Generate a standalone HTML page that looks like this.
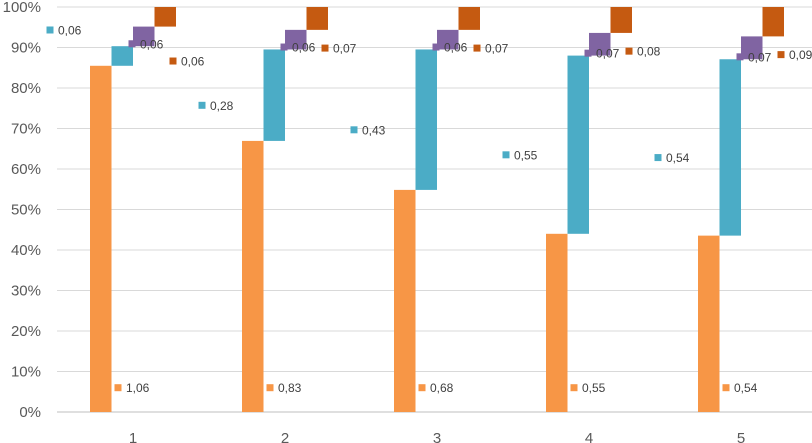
<!DOCTYPE html>
<html><head><meta charset="utf-8"><style>
html,body{margin:0;padding:0;background:#fff;}
svg{display:block;font-family:"Liberation Sans",sans-serif;}
</style></head><body>
<svg id="chart" width="812" height="443" viewBox="0 0 812 443"></svg>
<script>
const categories = ["1","2","3","4","5"];
const seriesOrange = [1.06,0.83,0.68,0.55,0.54];
const seriesTeal = [0.06,0.28,0.43,0.55,0.54];
const seriesPurple = [0.06,0.06,0.06,0.07,0.07];
const seriesBrown = [0.06,0.07,0.07,0.08,0.09];
const yTicks = [0,10,20,30,40,50,60,70,80,90,100];

const NS="http://www.w3.org/2000/svg";
const svg=document.getElementById('chart');
const L=57,R=817,T=7,B=412;
const step=(R-L)/categories.length;
const y=p=>B-(B-T)*p/100;
const cx=i=>L+step*(i+0.5);
function mk(tag,attrs,parent){const e=document.createElementNS(NS,tag);for(const k in attrs)e.setAttribute(k,attrs[k]);(parent||svg).appendChild(e);return e;}

yTicks.forEach(t=>{
  const g=mk('line',{x1:L,x2:812,y1:y(t),y2:y(t),stroke:t===0?'#bfbfbf':'#d9d9d9','stroke-width':1});
  
  
  const tx=mk('text',{x:41,y:y(t)+5,'text-anchor':'end','font-size':15,fill:'#595959'});
  tx.textContent=t+'%';
  
  
});

const series=[
 {name:'orange',vals:seriesOrange,color:'#f79646'},
 {name:'teal',vals:seriesTeal,color:'#4bacc6'},
 {name:'purple',vals:seriesPurple,color:'#8064a2'},
 {name:'brown',vals:seriesBrown,color:'#c55a11'}
];
const bw=21.5;
const fmt=v=>v.toFixed(2).replace('.',',');

categories.forEach((c,i)=>{
  const tot=series.reduce((s,sr)=>s+sr.vals[i],0);
  let cum=0;
  let smallTeal=false;
  const c0=cx(i);
  series.forEach((sr,k)=>{
    const p=sr.vals[i]/tot*100;
    const x0=c0-2*bw+k*bw;
    const r=mk('rect',{x:x0,y:y(cum+p),width:bw,height:y(cum)-y(cum+p),fill:sr.color});
    
    
    let lp,lx;
    if(k===0){lp=6;lx=c0-15;}
    else if(k===1){
      if(p<10){lp=cum+p+4;smallTeal=true;} else lp=cum+p/2-2.5;
      lx=c0-83;}
    else if(k===2){lp=cum+0.6;lx=c0-1;}
    else {lp=smallTeal?cum-8.5:Math.min(cum-4.5,90.2);lx=c0+40;}
    const ly=y(lp);
    const sq=mk('rect',{x:lx-3.5,y:ly-3.5,width:7,height:7,fill:sr.color});
    
    
    const tx=mk('text',{x:lx+8,y:ly+4.5,'font-size':12,fill:'#404040'});
    tx.textContent=fmt(sr.vals[i]);
    
    
    cum+=p;
  });
  const xl=mk('text',{x:c0,y:443,'text-anchor':'middle','font-size':15,fill:'#595959'});
  xl.textContent=c;
  
  
});
</script>
</body></html>
